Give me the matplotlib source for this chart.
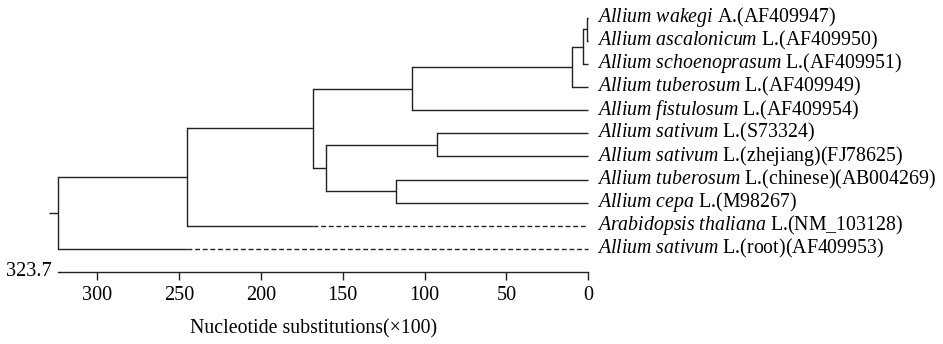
import matplotlib
matplotlib.use("Agg")
import matplotlib.pyplot as plt
from matplotlib.transforms import ScaledTranslation

plt.rcParams['font.family'] = ['Liberation Serif', 'DejaVu Serif']
plt.rcParams['mathtext.fontset'] = 'custom'
plt.rcParams['mathtext.rm'] = 'Liberation Serif'
plt.rcParams['mathtext.it'] = 'Liberation Serif:italic'

# ---- data ----
species = ["Allium wakegi", "Allium ascalonicum", "Allium schoenoprasum",
           "Allium tuberosum", "Allium fistulosum", "Allium sativum",
           "Allium sativum", "Allium tuberosum", "Allium cepa",
           "Arabidopsis thaliana", "Allium sativum"]
suffixes = ["A.(AF409947)", "L.(AF409950)", "L.(AF409951)", "L.(AF409949)",
            "L.(AF409954)", "L.(S73324)", "L.(zhejiang)(FJ78625)",
            "L.(chinese)(AB004269)", "L.(M98267)", "L.(NM_103128)",
            "L.(root)(AF409953)"]
# internal nodes: (name, child1, child2, height)
nodes = [("A", 0, 1, 1.0),
         ("B", "A", 2, 3.4),
         ("C", "B", 3, 10.1),
         ("D", "C", 4, 107.9),
         ("E", 5, 6, 92.6),
         ("F", 7, 8, 117.5),
         ("G", "E", "F", 160.2),
         ("H", "D", "G", 168.0),
         ("I", "H", 9, 245.3),
         ("R", "I", 10, 323.7)]
dashed_from = {9: 168.0, 10: 245.3}
root_height = 323.7
xticks = [300, 250, 200, 150, 100, 50, 0]
xlabel = "Nucleotide substitutions(\u00d7100)"

# ---- layout ----
W, H = 943, 344
fig = plt.figure(figsize=(W / 100, H / 100), dpi=100)
ax_left, ax_right = 58.3, 588.3
spine_y = 271.7
ax = fig.add_axes([ax_left / W, (H - spine_y) / H, (ax_right - ax_left) / W, spine_y / H])

leaf_top, leaf_step = 17.7, 23.13
ax.set_xlim(root_height, 0)
ax.set_ylim((spine_y - leaf_top) / leaf_step, -leaf_top / leaf_step)

lc = '#222222'
lw = 1.0
fs_lab = 14.3
fs_tick = 14.6
fs_x = 14.3
ypos = {i: float(i) for i in range(len(species))}
hgt = {i: 0.0 for i in range(len(species))}

def draw_h(x0, x1, y, dashed=False):
    if dashed:
        ax.plot([x0, x1], [y, y], color=lc, lw=lw, dashes=(3.5, 2.0),
                solid_capstyle='butt', clip_on=False)
    else:
        ax.plot([x0, x1], [y, y], color=lc, lw=lw, solid_capstyle='butt', clip_on=False)

for name, c1, c2, h in nodes:
    for c in (c1, c2):
        if c in dashed_from:
            draw_h(h, dashed_from[c], ypos[c])
            draw_h(dashed_from[c], hgt[c], ypos[c], dashed=True)
        else:
            draw_h(h, hgt[c], ypos[c])
    ax.plot([h, h], [ypos[c1], ypos[c2]], color=lc, lw=lw, clip_on=False)
    ypos[name] = (ypos[c1] + ypos[c2]) / 2
    hgt[name] = h

# root stub
draw_h(root_height + 5.5, root_height, ypos["R"])

# leaf labels
offset = ScaledTranslation(9 / 100, 0.5 / 100, fig.dpi_scale_trans)
for i, (sp, sf) in enumerate(zip(species, suffixes)):
    lab = r"$\mathit{" + sp.replace(" ", r"\ ") + "}$ " + sf
    ax.text(0, ypos[i], lab, transform=ax.transData + offset, fontsize=fs_lab,
            va='center', ha='left', color='black')

# axis styling
for s in ('top', 'right', 'left'):
    ax.spines[s].set_visible(False)
ax.spines['bottom'].set_color(lc)
ax.spines['bottom'].set_linewidth(lw)
ax.set_yticks([])
ax.set_xticks(xticks)
ax.set_xticklabels([str(t) for t in xticks])
ax.tick_params(axis='x', direction='out', length=6, width=lw, color=lc,
               labelsize=fs_tick, pad=4.5)

fig.text(52 / W, 1 - 271 / H, f"{root_height}", ha='right', va='center', fontsize=fs_tick)
fig.text(313.5 / W, 1 - 329 / H, xlabel, ha='center', va='center', fontsize=fs_x)

fig.savefig("out.png", dpi=100)
